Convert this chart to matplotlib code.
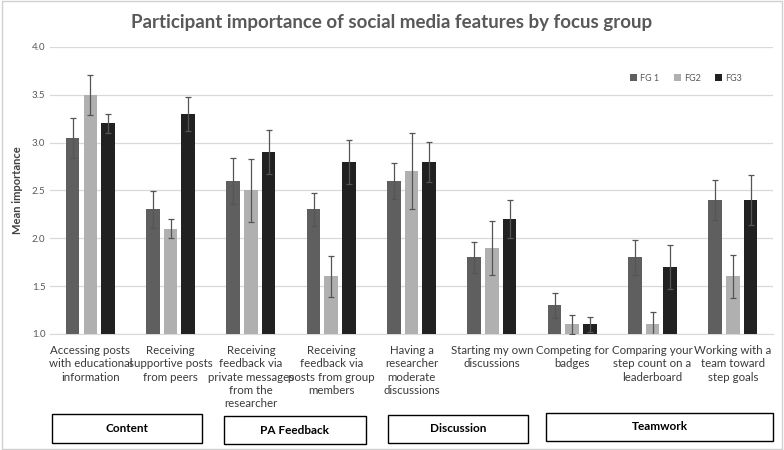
import numpy as np
import matplotlib.pyplot as plt
from matplotlib.patches import Rectangle

plt.rcParams['font.family'] = ['Lato', 'DejaVu Sans']

# Data
features = ['Accessing posts\nwith educational\ninformation',
            'Receiving\nsupportive posts\nfrom peers',
            'Receiving\nfeedback via\nprivate messages\nfrom the\nresearcher',
            'Receiving\nfeedback via\nposts from group\nmembers',
            'Having a\nresearcher\nmoderate\ndiscussions',
            'Starting my own\ndiscussions',
            'Competing for\nbadges',
            'Comparing your\nstep count on a\nleaderboard',
            'Working with a\nteam toward\nstep goals']
fg1 = [3.05, 2.3, 2.6, 2.3, 2.6, 1.8, 1.3, 1.8, 2.4]
fg2 = [3.5, 2.1, 2.5, 1.6, 2.7, 1.9, 1.1, 1.1, 1.6]
fg3 = [3.2, 3.3, 2.9, 2.8, 2.8, 2.2, 1.1, 1.7, 2.4]
err1 = [0.21, 0.19, 0.24, 0.17, 0.19, 0.16, 0.13, 0.18, 0.21]
err2 = [0.21, 0.10, 0.33, 0.21, 0.40, 0.28, 0.10, 0.13, 0.22]
err3 = [0.10, 0.18, 0.23, 0.23, 0.21, 0.20, 0.08, 0.23, 0.26]
series = ['FG 1', 'FG2', 'FG3']
colors = ['#5f5f5f', '#b0b0b0', '#212121']
groups = ['Content', 'PA Feedback', 'Discussion', 'Teamwork']

fig = plt.figure(figsize=(7.84, 4.5), dpi=100)
ax = fig.add_axes([0.064, 0.258, 0.922, 0.638])

x = np.arange(len(features))
w = 0.17
for i, (vals, errs) in enumerate(zip([fg1, fg2, fg3], [err1, err2, err3])):
    ax.bar(x + (i - 1) * 0.22, vals, w, color=colors[i], label=series[i],
           yerr=errs, error_kw=dict(ecolor='#555555', elinewidth=0.9, capsize=2.5, capthick=0.9),
           zorder=3)

ax.set_ylim(1.0, 4.0)
ax.set_xlim(-0.5, len(features) - 0.5)
ax.set_yticks(np.arange(1.0, 4.01, 0.5))
ax.set_yticklabels([f'{v:.1f}' for v in np.arange(1.0, 4.01, 0.5)], fontsize=7, color='#595959')
ax.yaxis.grid(True, color='#d9d9d9', linewidth=0.9, zorder=0)
ax.set_axisbelow(True)
ax.set_xticks(x)
ax.set_xticklabels(features, fontsize=8.3, color='#3a3a3a', va='top', linespacing=1.25)
ax.tick_params(axis='both', length=0)
ax.tick_params(axis='x', pad=8)
for s in ['top', 'right', 'left']:
    ax.spines[s].set_visible(False)
ax.spines['bottom'].set_color('#d9d9d9')
ax.set_ylabel('Mean importance', fontsize=8, fontweight='bold', color='#404040', labelpad=6)

ax.legend(loc='upper right', bbox_to_anchor=(0.968, 0.935), ncol=3, frameon=False,
          fontsize=6.5, handlelength=0.8, handleheight=0.8, columnspacing=1.6,
          handletextpad=0.3, labelcolor='#595959')

fig.text(0.5, 0.95, 'Participant importance of social media features by focus group',
         ha='center', va='center', fontsize=13.5, fontweight='bold', color='#595959')

# category boxes (pixel coords -> figure coords)
boxes = [(52, 202, 414, 443), (224, 366, 416, 444), (388, 528, 415, 443), (546, 773, 413, 441)]
for name, (x0, x1, y0, y1) in zip(groups, boxes):
    fig.patches.append(Rectangle((x0 / 784, 1 - y1 / 450), (x1 - x0) / 784, (y1 - y0) / 450,
                                 transform=fig.transFigure, fill=False, edgecolor='black',
                                 linewidth=1.0))
    fig.text((x0 + x1) / 2 / 784, 1 - (y0 + y1) / 2 / 450, name, ha='center', va='center',
             fontsize=8.5, fontweight='bold', color='black')

# outer border
fig.patches.append(Rectangle((0.002, 0.002), 0.996, 0.996, transform=fig.transFigure,
                             fill=False, edgecolor='#d0d0d0', linewidth=1.0))

fig.savefig('out.png', dpi=100)
